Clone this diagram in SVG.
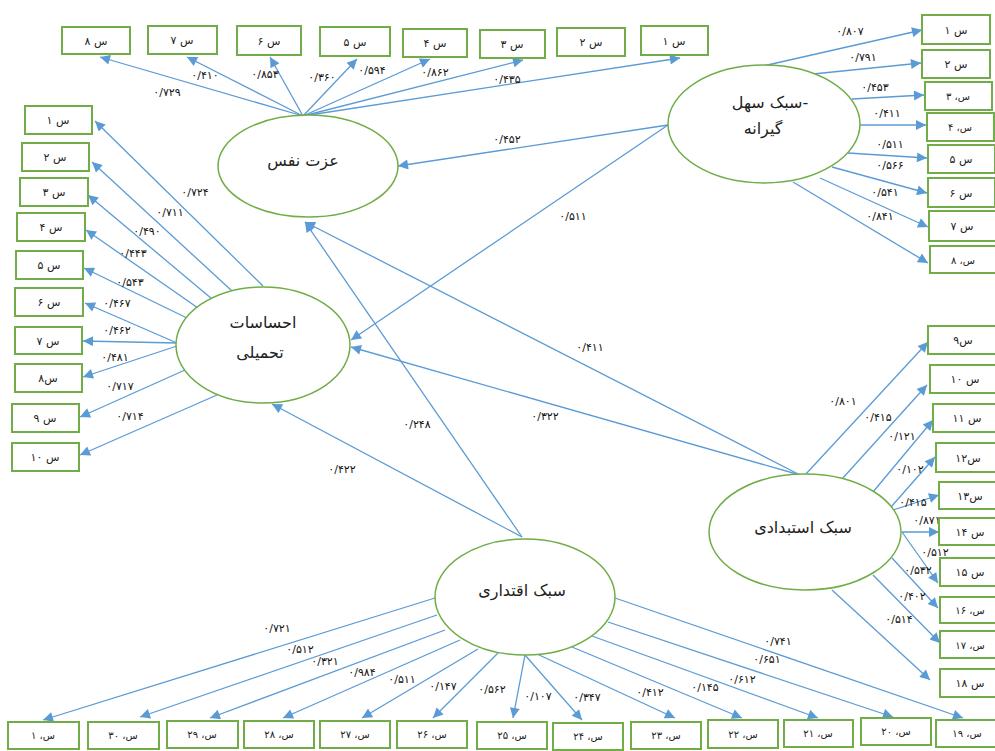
<svg xmlns="http://www.w3.org/2000/svg" width="995" height="751" viewBox="0 0 995 751">
<style>
.bx{fill:#fff;stroke:#70AD47;stroke-width:2}
.el{fill:#fff;stroke:#70AD47;stroke-width:1.5}
.ln{stroke:#5B9BD5;stroke-width:1.3;fill:none;marker-end:url(#ah)}
.bt{font-family:"DejaVu Sans",sans-serif;font-size:11px;fill:#222;text-anchor:middle}
.bs{font-family:"DejaVu Sans",sans-serif;font-size:10px;fill:#222;text-anchor:middle}
.et{font-family:"DejaVu Sans",sans-serif;font-size:16px;fill:#222;text-anchor:middle}
.nl{font-family:"DejaVu Sans",sans-serif;font-size:11px;fill:#111;text-anchor:middle}
</style>
<defs>
<marker id="ah" viewBox="0 0 10 10" refX="10" refY="5" markerWidth="12" markerHeight="10" orient="auto" markerUnits="userSpaceOnUse"><path d="M0,0 L10,5 L0,10 z" fill="#5B9BD5"/></marker>
</defs>
<rect width="995" height="751" fill="#fff"/>

<g id="connectors">
<line class="ln" x1="303" y1="116" x2="100" y2="57"/>
<line class="ln" x1="303" y1="116" x2="187" y2="57"/>
<line class="ln" x1="303" y1="116" x2="270" y2="57"/>
<line class="ln" x1="303" y1="116" x2="357" y2="59"/>
<line class="ln" x1="303" y1="116" x2="430" y2="59"/>
<line class="ln" x1="303" y1="116" x2="523" y2="60"/>
<line class="ln" x1="303" y1="116" x2="680" y2="58"/>
<line class="ln" x1="763" y1="66" x2="922" y2="30"/>
<line class="ln" x1="813" y1="74" x2="921" y2="63"/>
<line class="ln" x1="852" y1="99" x2="924" y2="95"/>
<line class="ln" x1="859" y1="125" x2="926" y2="125"/>
<line class="ln" x1="848" y1="153" x2="927" y2="158"/>
<line class="ln" x1="832" y1="167" x2="927" y2="193"/>
<line class="ln" x1="820" y1="178" x2="928" y2="227"/>
<line class="ln" x1="793" y1="182" x2="928" y2="263"/>
<line class="ln" x1="263" y1="286" x2="95" y2="121"/>
<line class="ln" x1="232" y1="291" x2="92" y2="162"/>
<line class="ln" x1="212" y1="299" x2="88" y2="195"/>
<line class="ln" x1="198" y1="308" x2="86" y2="230"/>
<line class="ln" x1="187" y1="318" x2="84" y2="268"/>
<line class="ln" x1="177" y1="343" x2="85" y2="303"/>
<line class="ln" x1="177" y1="343" x2="83" y2="341"/>
<line class="ln" x1="177" y1="346" x2="83" y2="377"/>
<line class="ln" x1="185" y1="370" x2="80" y2="417"/>
<line class="ln" x1="217" y1="395" x2="80" y2="455"/>
<line class="ln" x1="668" y1="125" x2="398" y2="166"/>
<line class="ln" x1="668" y1="125" x2="351" y2="340"/>
<line class="ln" x1="800" y1="475" x2="305" y2="222"/>
<line class="ln" x1="800" y1="475" x2="351" y2="347"/>
<line class="ln" x1="522" y1="537" x2="305" y2="222"/>
<line class="ln" x1="522" y1="537" x2="272" y2="404"/>
<line class="ln" x1="805" y1="475" x2="928" y2="342"/>
<line class="ln" x1="842" y1="479" x2="927" y2="385"/>
<line class="ln" x1="873" y1="492" x2="933" y2="420"/>
<line class="ln" x1="891" y1="507" x2="935" y2="457"/>
<line class="ln" x1="893" y1="510" x2="939" y2="495"/>
<line class="ln" x1="902" y1="532" x2="939" y2="532"/>
<line class="ln" x1="902" y1="532" x2="938" y2="583"/>
<line class="ln" x1="892" y1="558" x2="938" y2="608"/>
<line class="ln" x1="873" y1="575" x2="940" y2="643"/>
<line class="ln" x1="832" y1="590" x2="930" y2="680"/>
<line class="ln" x1="435" y1="598" x2="43" y2="720"/>
<line class="ln" x1="437" y1="615" x2="140" y2="717"/>
<line class="ln" x1="445" y1="630" x2="210" y2="718"/>
<line class="ln" x1="460" y1="640" x2="283" y2="718"/>
<line class="ln" x1="478" y1="649" x2="362" y2="718"/>
<line class="ln" x1="498" y1="653" x2="433" y2="718"/>
<line class="ln" x1="525" y1="655" x2="513" y2="718"/>
<line class="ln" x1="525" y1="655" x2="582" y2="720"/>
<line class="ln" x1="537" y1="654" x2="675" y2="718"/>
<line class="ln" x1="572" y1="647" x2="742" y2="718"/>
<line class="ln" x1="592" y1="636" x2="818" y2="718"/>
<line class="ln" x1="608" y1="622" x2="893" y2="717"/>
<line class="ln" x1="615" y1="598" x2="963" y2="718"/>
</g>

<g id="labels">
<text class="nl" x="167" y="96">۰/۷۲۹</text>
<text class="nl" x="205" y="79">۰/۴۱۰</text>
<text class="nl" x="265" y="78">۰/۸۵۳</text>
<text class="nl" x="322" y="81">۰/۳۶۰</text>
<text class="nl" x="372" y="74">۰/۵۹۴</text>
<text class="nl" x="435" y="76">۰/۸۶۲</text>
<text class="nl" x="507" y="83">۰/۴۳۵</text>

<text class="nl" x="850" y="35">۰/۸۰۷</text>
<text class="nl" x="863" y="61">۰/۷۹۱</text>
<text class="nl" x="875" y="91">۰/۴۵۳</text>
<text class="nl" x="887" y="117">۰/۴۱۱</text>
<text class="nl" x="890" y="148">۰/۵۱۱</text>
<text class="nl" x="890" y="169">۰/۵۶۶</text>
<text class="nl" x="885" y="196">۰/۵۴۱</text>
<text class="nl" x="880" y="220">۰/۸۴۱</text>

<text class="nl" x="195" y="196">۰/۷۲۴</text>
<text class="nl" x="170" y="216">۰/۷۱۱</text>
<text class="nl" x="147" y="235">۰/۴۹۰</text>
<text class="nl" x="133" y="257">۰/۴۴۳</text>
<text class="nl" x="130" y="286">۰/۵۴۳</text>
<text class="nl" x="117" y="307">۰/۴۶۷</text>
<text class="nl" x="117" y="334">۰/۴۶۲</text>
<text class="nl" x="115" y="361">۰/۴۸۱</text>
<text class="nl" x="120" y="390">۰/۷۱۷</text>
<text class="nl" x="130" y="420">۰/۷۱۴</text>

<text class="nl" x="507" y="143">۰/۴۵۲</text>
<text class="nl" x="573" y="220">۰/۵۱۱</text>
<text class="nl" x="590" y="351">۰/۴۱۱</text>
<text class="nl" x="545" y="420">۰/۳۲۲</text>
<text class="nl" x="417" y="428">۰/۲۴۸</text>
<text class="nl" x="342" y="473">۰/۴۲۲</text>

<text class="nl" x="843" y="405">۰/۸۰۱</text>
<text class="nl" x="878" y="421">۰/۴۱۵</text>
<text class="nl" x="902" y="440">۰/۱۲۱</text>
<text class="nl" x="910" y="473">۰/۱۰۲</text>
<text class="nl" x="913" y="506">۰/۴۱۵</text>
<text class="nl" x="927" y="524">۰/۸۷۱</text>
<text class="nl" x="935" y="556">۰/۵۱۲</text>
<text class="nl" x="918" y="574">۰/۵۳۲</text>
<text class="nl" x="912" y="600">۰/۴۰۲</text>
<text class="nl" x="899" y="623">۰/۵۱۴</text>

<text class="nl" x="277" y="632">۰/۷۲۱</text>
<text class="nl" x="300" y="653">۰/۵۱۲</text>
<text class="nl" x="325" y="665">۰/۳۲۱</text>
<text class="nl" x="362" y="676">۰/۹۸۴</text>
<text class="nl" x="402" y="683">۰/۵۱۱</text>
<text class="nl" x="443" y="690">۰/۱۴۷</text>
<text class="nl" x="492" y="693">۰/۵۶۲</text>
<text class="nl" x="538" y="700">۰/۱۰۷</text>
<text class="nl" x="587" y="701">۰/۳۴۷</text>
<text class="nl" x="650" y="696">۰/۴۱۲</text>
<text class="nl" x="705" y="691">۰/۱۴۵</text>
<text class="nl" x="742" y="683">۰/۶۱۲</text>
<text class="nl" x="767" y="663">۰/۶۵۱</text>
<text class="nl" x="778" y="645">۰/۷۴۱</text>
</g>

<g id="self-esteem"><ellipse class="el" cx="308" cy="166" rx="90" ry="51"/><text class="et" x="303" y="166">عزت نفس</text></g>
<g id="feelings"><ellipse class="el" cx="263" cy="345" rx="87" ry="58"/><text class="et" x="263" y="328">احساسات</text><text class="et" x="260" y="358">تحمیلی</text></g>
<g id="permissive"><ellipse class="el" cx="764" cy="124" rx="96" ry="59"/><text class="et" x="770" y="108">&#x200E;سبک سهل-&#x200E;</text><text class="et" x="763" y="134">گیرانه</text></g>
<g id="authoritarian"><ellipse class="el" cx="805" cy="532" rx="96" ry="58"/><text class="et" x="803" y="533">سبک استبدادی</text></g>
<g id="authoritative"><ellipse class="el" cx="525" cy="597" rx="90" ry="58"/><text class="et" x="522" y="596">سبک اقتداری</text></g>

<g id="top-boxes">
<g id="t8"><rect class="bx" x="62" y="27" width="68" height="27"/><text class="bt" x="96" y="45">س ۸</text></g>
<g id="t7"><rect class="bx" x="148" y="26" width="69" height="28"/><text class="bt" x="182" y="44">س ۷</text></g>
<g id="t6"><rect class="bx" x="237" y="26" width="64" height="29"/><text class="bt" x="269" y="45">س ۶</text></g>
<g id="t5"><rect class="bx" x="320" y="27" width="70" height="29"/><text class="bt" x="355" y="46">س ۵</text></g>
<g id="t4"><rect class="bx" x="403" y="29" width="64" height="28"/><text class="bt" x="435" y="47">س ۴</text></g>
<g id="t3"><rect class="bx" x="480" y="30" width="65" height="28"/><text class="bt" x="512" y="48">س ۳</text></g>
<g id="t2"><rect class="bx" x="557" y="28" width="68" height="28"/><text class="bt" x="591" y="46">س ۲</text></g>
<g id="t1"><rect class="bx" x="641" y="26" width="67" height="29"/><text class="bt" x="674" y="45">س ۱</text></g>
</g>

<g id="right-top-boxes">
<g id="r1"><rect class="bx" x="922" y="15" width="68" height="29"/><text class="bt" x="956" y="34">س ۱</text></g>
<g id="r2"><rect class="bx" x="922" y="50" width="68" height="28"/><text class="bt" x="956" y="68">س ۲</text></g>
<g id="r3"><rect class="bx" x="925" y="82" width="67" height="28"/><text class="bs" x="958" y="100">س، ۳</text></g>
<g id="r4"><rect class="bx" x="927" y="113" width="67" height="28"/><text class="bs" x="960" y="131">س، ۴</text></g>
<g id="r5"><rect class="bx" x="928" y="145" width="67" height="28"/><text class="bt" x="961" y="163">س ۵</text></g>
<g id="r6"><rect class="bx" x="928" y="178" width="67" height="29"/><text class="bt" x="961" y="197">س ۶</text></g>
<g id="r7"><rect class="bx" x="929" y="211" width="67" height="30"/><text class="bt" x="962" y="230">س ۷</text></g>
<g id="r8"><rect class="bx" x="930" y="246" width="67" height="27"/><text class="bs" x="963" y="264">س، ۸</text></g>
</g>

<g id="left-boxes">
<g id="l1"><rect class="bx" x="25" y="106" width="67" height="28"/><text class="bt" x="58" y="124">س ۱</text></g>
<g id="l2"><rect class="bx" x="22" y="143" width="67" height="28"/><text class="bt" x="55" y="161">س ۲</text></g>
<g id="l3"><rect class="bx" x="20" y="178" width="68" height="28"/><text class="bt" x="54" y="196">س ۳</text></g>
<g id="l4"><rect class="bx" x="17" y="213" width="68" height="28"/><text class="bt" x="51" y="231">س ۴</text></g>
<g id="l5"><rect class="bx" x="16" y="251" width="67" height="28"/><text class="bt" x="49" y="269">س ۵</text></g>
<g id="l6"><rect class="bx" x="15" y="288" width="68" height="28"/><text class="bt" x="49" y="306">س ۶</text></g>
<g id="l7"><rect class="bx" x="15" y="327" width="67" height="27"/><text class="bt" x="48" y="345">س ۷</text></g>
<g id="l8"><rect class="bx" x="15" y="364" width="67" height="28"/><text class="bt" x="48" y="382">س۸</text></g>
<g id="l9"><rect class="bx" x="12" y="404" width="67" height="28"/><text class="bt" x="45" y="422">س ۹</text></g>
<g id="l10"><rect class="bx" x="12" y="443" width="67" height="28"/><text class="bt" x="45" y="461">س ۱۰</text></g>
</g>

<g id="right-mid-boxes">
<g id="m9"><rect class="bx" x="928" y="326" width="70" height="28"/><text class="bt" x="963" y="344">س۹</text></g>
<g id="m10"><rect class="bx" x="930" y="365" width="70" height="28"/><text class="bt" x="965" y="383">س ۱۰</text></g>
<g id="m11"><rect class="bx" x="933" y="404" width="70" height="28"/><text class="bt" x="967" y="422">س ۱۱</text></g>
<g id="m12"><rect class="bx" x="936" y="443" width="70" height="29"/><text class="bt" x="968" y="462">س۱۲</text></g>
<g id="m13"><rect class="bx" x="939" y="482" width="70" height="27"/><text class="bt" x="970" y="500">س۱۳</text></g>
<g id="m14"><rect class="bx" x="939" y="518" width="70" height="27"/><text class="bt" x="970" y="536">س ۱۴</text></g>
<g id="m15"><rect class="bx" x="940" y="558" width="70" height="28"/><text class="bt" x="970" y="576">س ۱۵</text></g>
<g id="m16"><rect class="bx" x="940" y="597" width="70" height="26"/><text class="bs" x="970" y="614">س، ۱۶</text></g>
<g id="m17"><rect class="bx" x="940" y="631" width="70" height="27"/><text class="bs" x="970" y="649">س، ۱۷</text></g>
<g id="m18"><rect class="bx" x="940" y="669" width="70" height="28"/><text class="bt" x="970" y="687">س ۱۸</text></g>
</g>

<g id="bottom-boxes">
<g id="b1"><rect class="bx" x="8" y="722" width="71" height="27"/><text class="bs" x="43" y="739">س، ۱</text></g>
<g id="b30"><rect class="bx" x="88" y="722" width="71" height="27"/><text class="bs" x="123" y="739">س، ۳۰</text></g>
<g id="b29"><rect class="bx" x="167" y="721" width="71" height="27"/><text class="bs" x="202" y="738">س، ۲۹</text></g>
<g id="b28"><rect class="bx" x="244" y="721" width="70" height="27"/><text class="bs" x="279" y="738">س، ۲۸</text></g>
<g id="b27"><rect class="bx" x="320" y="721" width="70" height="27"/><text class="bs" x="355" y="738">س، ۲۷</text></g>
<g id="b26"><rect class="bx" x="397" y="721" width="70" height="27"/><text class="bs" x="432" y="738">س، ۲۶</text></g>
<g id="b25"><rect class="bx" x="477" y="722" width="70" height="27"/><text class="bs" x="512" y="739">س، ۲۵</text></g>
<g id="b24"><rect class="bx" x="553" y="723" width="70" height="27"/><text class="bs" x="588" y="740">س، ۲۴</text></g>
<g id="b23"><rect class="bx" x="631" y="722" width="70" height="27"/><text class="bs" x="666" y="739">س، ۲۳</text></g>
<g id="b22"><rect class="bx" x="708" y="720" width="70" height="28"/><text class="bs" x="743" y="738">س، ۲۲</text></g>
<g id="b21"><rect class="bx" x="784" y="720" width="69" height="27"/><text class="bs" x="818" y="737">س، ۲۱</text></g>
<g id="b20"><rect class="bx" x="861" y="718" width="70" height="27"/><text class="bs" x="896" y="735">س، ۲۰</text></g>
<g id="b19"><rect class="bx" x="936" y="720" width="70" height="27"/><text class="bs" x="967" y="737">س، ۱۹</text></g>
</g>
</svg>
